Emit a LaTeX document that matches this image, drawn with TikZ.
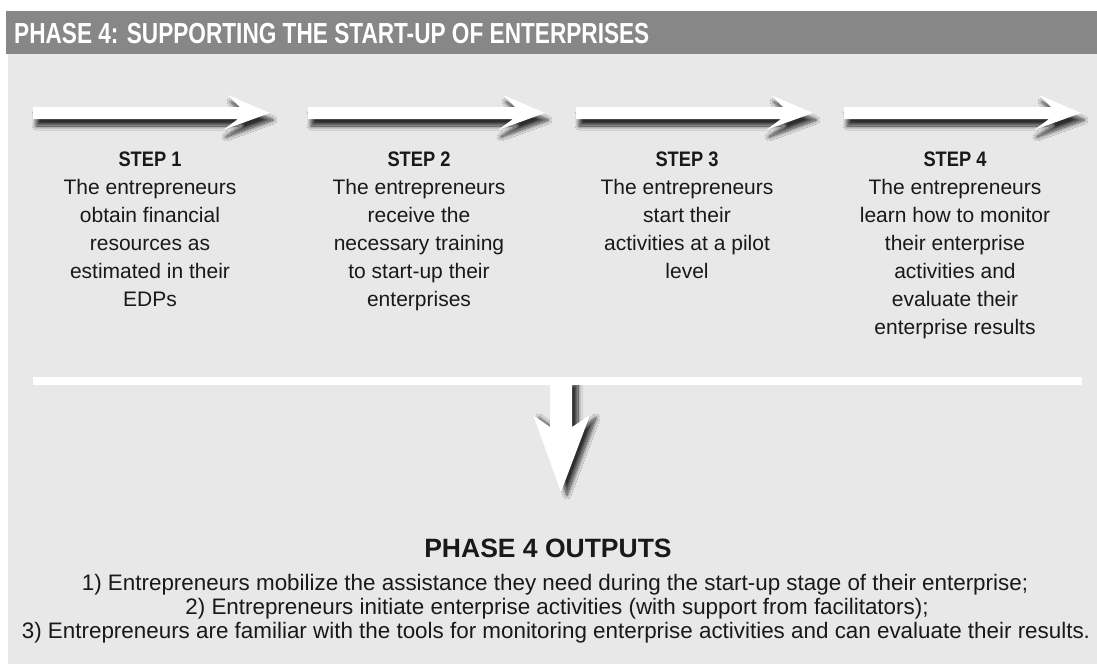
\documentclass[tikz,border=0pt]{standalone}
\usepackage{fontspec}
\setmainfont{Liberation Sans}
\newfontfamily\hdrbold{Liberation Sans Bold}[FakeStretch=0.78]
\newfontfamily\stepbold{Liberation Sans Bold}[FakeStretch=0.87]
\newfontfamily\headbold{Liberation Sans Bold}
\usetikzlibrary{shadows.blur}

\definecolor{headergray}{gray}{0.53}
\definecolor{panelgray}{gray}{0.91}
\definecolor{inkgray}{gray}{0.1}

\tikzset{
  x=1pt, y=-1pt,
  bigarrow/.style={fill=white,
    blur shadow={shadow xshift=3pt, shadow yshift=-7pt,
      shadow blur radius=4pt, shadow blur steps=12, shadow opacity=80}},
  downarrow/.style={fill=white,
    blur shadow={shadow xshift=6pt, shadow yshift=-3pt,
      shadow blur radius=4pt, shadow blur steps=12, shadow opacity=80}},
  pics/rightarrow/.style={code={
    \path[bigarrow] (0,-6) -- (207,-6) -- (195,-18) -- (237,0)
      -- (190,17) -- (205,6) -- (0,6) -- cycle;
  }},
  stepbox/.style={align=center, inner sep=0pt, anchor=north, text=inkgray,
    font=\fontsize{21}{28}\selectfont},
  outline/.style={inner sep=0pt, anchor=base, text=inkgray,
    font=\fontsize{22.4}{24}\selectfont},
}

\begin{document}
\begin{tikzpicture}
\useasboundingbox (0,0) rectangle (1097,665);

% panel and title bar
\fill[panelgray] (8,54) rectangle (1097,664);
\fill[headergray] (6,11) rectangle (1097,54);
\node[anchor=base west, inner sep=0pt, text=white,
  font=\hdrbold\fontsize{29}{32}\selectfont] (title) at (14,43)
  {PHASE 4: SUPPORTING THE START-UP OF ENTERPRISES};

% step arrows
\pic at (33,113) {rightarrow};
\pic at (308,113) {rightarrow};
\pic at (576,113) {rightarrow};
\pic at (844,113) {rightarrow};

% step descriptions
\node[stepbox] (s1) at (150,152) {{\stepbold STEP 1}\\The entrepreneurs\\obtain financial\\resources as\\estimated in their\\EDPs};
\node[stepbox] (s2) at (419,152) {{\stepbold STEP 2}\\The entrepreneurs\\receive the\\necessary training\\to start-up their\\enterprises};
\node[stepbox] (s3) at (687,152) {{\stepbold STEP 3}\\The entrepreneurs\\start their\\activities at a pilot\\level};
\node[stepbox] (s4) at (955,152) {{\stepbold STEP 4}\\The entrepreneurs\\learn how to monitor\\their enterprise\\activities and\\evaluate their\\enterprise results};

% collecting bar and arrow to the outputs
\path[downarrow] (550,381) -- (550,427) -- (533,415) -- (561,492)
  -- (590,415) -- (572,427) -- (572,381) -- cycle;
\fill[white] (33,377) rectangle (1082,385);

% outputs
\node[outline, font=\headbold\fontsize{26.5}{30}\selectfont] (outhead) at (548,557) {PHASE 4 OUTPUTS};
\node[outline] (out1) at (555,590) {1) Entrepreneurs mobilize the assistance they need during the start-up stage of their enterprise;};
\node[outline] (out2) at (557,614) {2) Entrepreneurs initiate enterprise activities (with support from facilitators);};
\node[outline] (out3) at (556,638) {3) Entrepreneurs are familiar with the tools for monitoring enterprise activities and can evaluate their results.};
\end{tikzpicture}
\end{document}
